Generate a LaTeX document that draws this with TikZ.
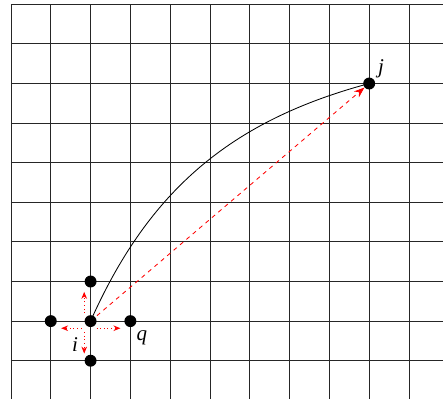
\documentclass[tikz,border=0pt]{standalone}
\usepackage{fontspec}
\setmainfont{Liberation Serif}
\usetikzlibrary{arrows.meta,calc}
\pgfdeclarelayer{background}
\pgfsetlayers{background,main}
\begin{document}
\begin{tikzpicture}[x=1cm,y=0.995cm,
  gridline/.style={black!85,line width=0.6pt},
  dot/.style={circle,fill=black,inner sep=0pt,minimum size=0.3cm},
  lbl/.style={font=\fontsize{15}{17}\selectfont\itshape,inner sep=0pt},
  curvepath/.style={black,line width=0.6pt},
  jump/.style={red,dashed,line width=0.6pt,-{Stealth[length=7.5pt,width=5.5pt]}},
  move/.style={red,dotted,line width=0.6pt,-{Stealth[length=5pt,width=4pt]}}]
\useasboundingbox (-0.276,0.109) rectangle (10.855,-9.942);
% points
\node[dot] (i) at (2,-8) {};
\node[dot] (j) at (9,-2) {};
\node[dot] (q) at (3,-8) {};
\node[dot] (l) at (1,-8) {};
\node[dot] (u) at (2,-7) {};
\node[dot] (d) at (2,-9) {};
% labels
\node[lbl] (li) at ($(i)+(-0.39,-0.6)$) {i};
\node[lbl] (lj) at ($(j)+(0.3,0.38)$) {j};
\node[lbl] (lq) at ($(q)+(0.29,-0.42)$) {q};
\begin{pgfonlayer}{background}
  \clip (-0.276,0.109) rectangle (10.855,-9.942);
  \foreach \c in {0,...,10} \draw[gridline] (\c,0) -- (\c,-10.5);
  \foreach \r in {0,...,9} \draw[gridline] (0,-\r) -- (11.5,-\r);
  \draw[curvepath] (i.center) to[out=66,in=195] (j.center);
  \draw[jump] (i.center) -- (j);
  \coordinate (ua) at ($(i)+(-0.16,0.2)$);
  \coordinate (ub) at ($(i)+(-0.16,0.74)$);
  \coordinate (da) at ($(i)+(-0.16,-0.28)$);
  \coordinate (db) at ($(i)+(-0.16,-0.82)$);
  \coordinate (la) at ($(i)+(-0.23,-0.18)$);
  \coordinate (lb) at ($(i)+(-0.74,-0.18)$);
  \coordinate (ra) at ($(i)+(0.15,-0.18)$);
  \coordinate (rb) at ($(i)+(0.75,-0.18)$);
  \draw[move] (ua) -- (ub);
  \draw[move] (da) -- (db);
  \draw[move] (la) -- (lb);
  \draw[move] (ra) -- (rb);
\end{pgfonlayer}
\end{tikzpicture}
\end{document}
